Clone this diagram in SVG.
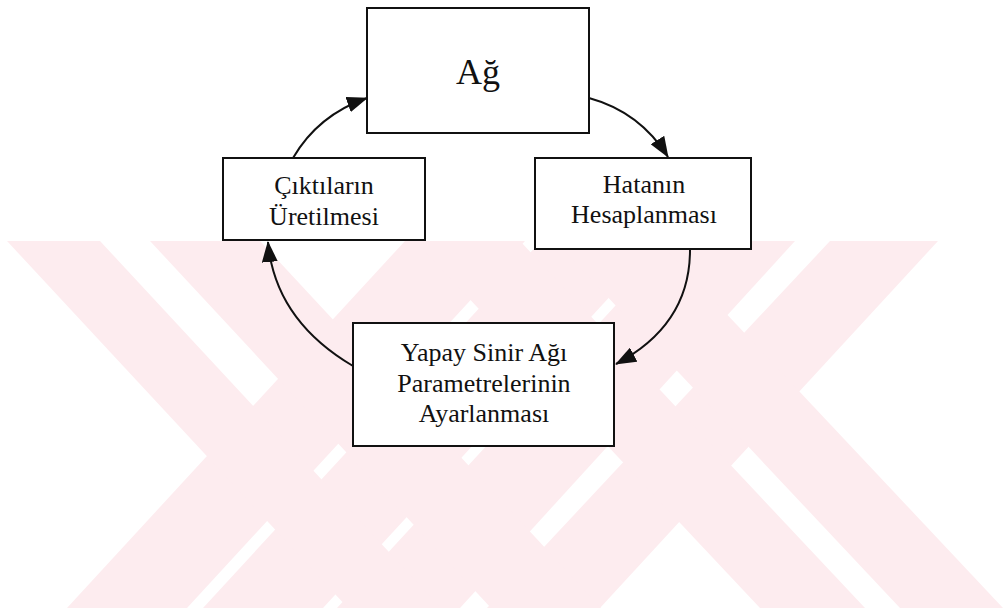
<svg xmlns="http://www.w3.org/2000/svg" width="1006" height="608" viewBox="0 0 1006 608">
  <style>
    .wm { fill: #fdecef; }
    .box { fill: #ffffff; stroke: #111111; stroke-width: 2; }
    .lbl { font-family: "Liberation Serif", "Times New Roman", serif; font-size: 26px; fill: #111111; text-anchor: middle; }
    .big { font-size: 36px; }
    .edge { fill: none; stroke: #111111; stroke-width: 2; marker-end: url(#arrow); }
  </style>
  <defs>
    <marker id="arrow" markerUnits="userSpaceOnUse" markerWidth="21" markerHeight="16" refX="20" refY="8" orient="auto">
      <path d="M0,0 L21,8 L0,16 Z" fill="#111111"/>
    </marker>
  </defs>

  <rect width="1006" height="608" fill="#ffffff"/>

  <!-- background mark: crossing double bands -->
  <g id="watermark" class="wm">
    <polygon points="67,608 187,608 525,241 405,241"/>
    <polygon points="203,608 323,608 661,241 541,241"/>
    <polygon points="337,608 460,608 795,241 675,241"/>
    <polygon points="487,608 600,608 938,241 830,241"/>
    <polygon points="7,241 100,241 441,608 348,608"/>
    <polygon points="150,241 260,241 601,608 491,608"/>
    <polygon points="415,241 520,241 865,608 760,608"/>
    <polygon points="555,241 658,241 1003,608 900,608"/>
  </g>

  <!-- nodes -->
  <g id="node-ag">
    <rect class="box" x="367" y="8" width="222" height="125"/>
    <text class="lbl big" x="478" y="84">Ağ</text>
  </g>
  <g id="node-hata">
    <rect class="box" x="535" y="158" width="216" height="91"/>
    <text class="lbl" x="644" y="193">Hatanın</text>
    <text class="lbl" x="644" y="223">Hesaplanması</text>
  </g>
  <g id="node-ayar">
    <rect class="box" x="353" y="323" width="261" height="123"/>
    <text class="lbl" x="484" y="361">Yapay Sinir Ağı</text>
    <text class="lbl" x="484" y="392">Parametrelerinin</text>
    <text class="lbl" x="484" y="422">Ayarlanması</text>
  </g>
  <g id="node-cikti">
    <rect class="box" x="223" y="158" width="202" height="82"/>
    <text class="lbl" x="324" y="194">Çıktıların</text>
    <text class="lbl" x="324" y="225">Üretilmesi</text>
  </g>

  <!-- connectors -->
  <g id="connectors">
    <path class="edge" d="M589,98 Q640,112 668,157"/>
    <path class="edge" d="M690,250 Q690,325 616,364"/>
    <path class="edge" d="M353,366 Q275,320 268,242"/>
    <path class="edge" d="M293,158 Q318,115 367,98"/>
  </g>
</svg>
